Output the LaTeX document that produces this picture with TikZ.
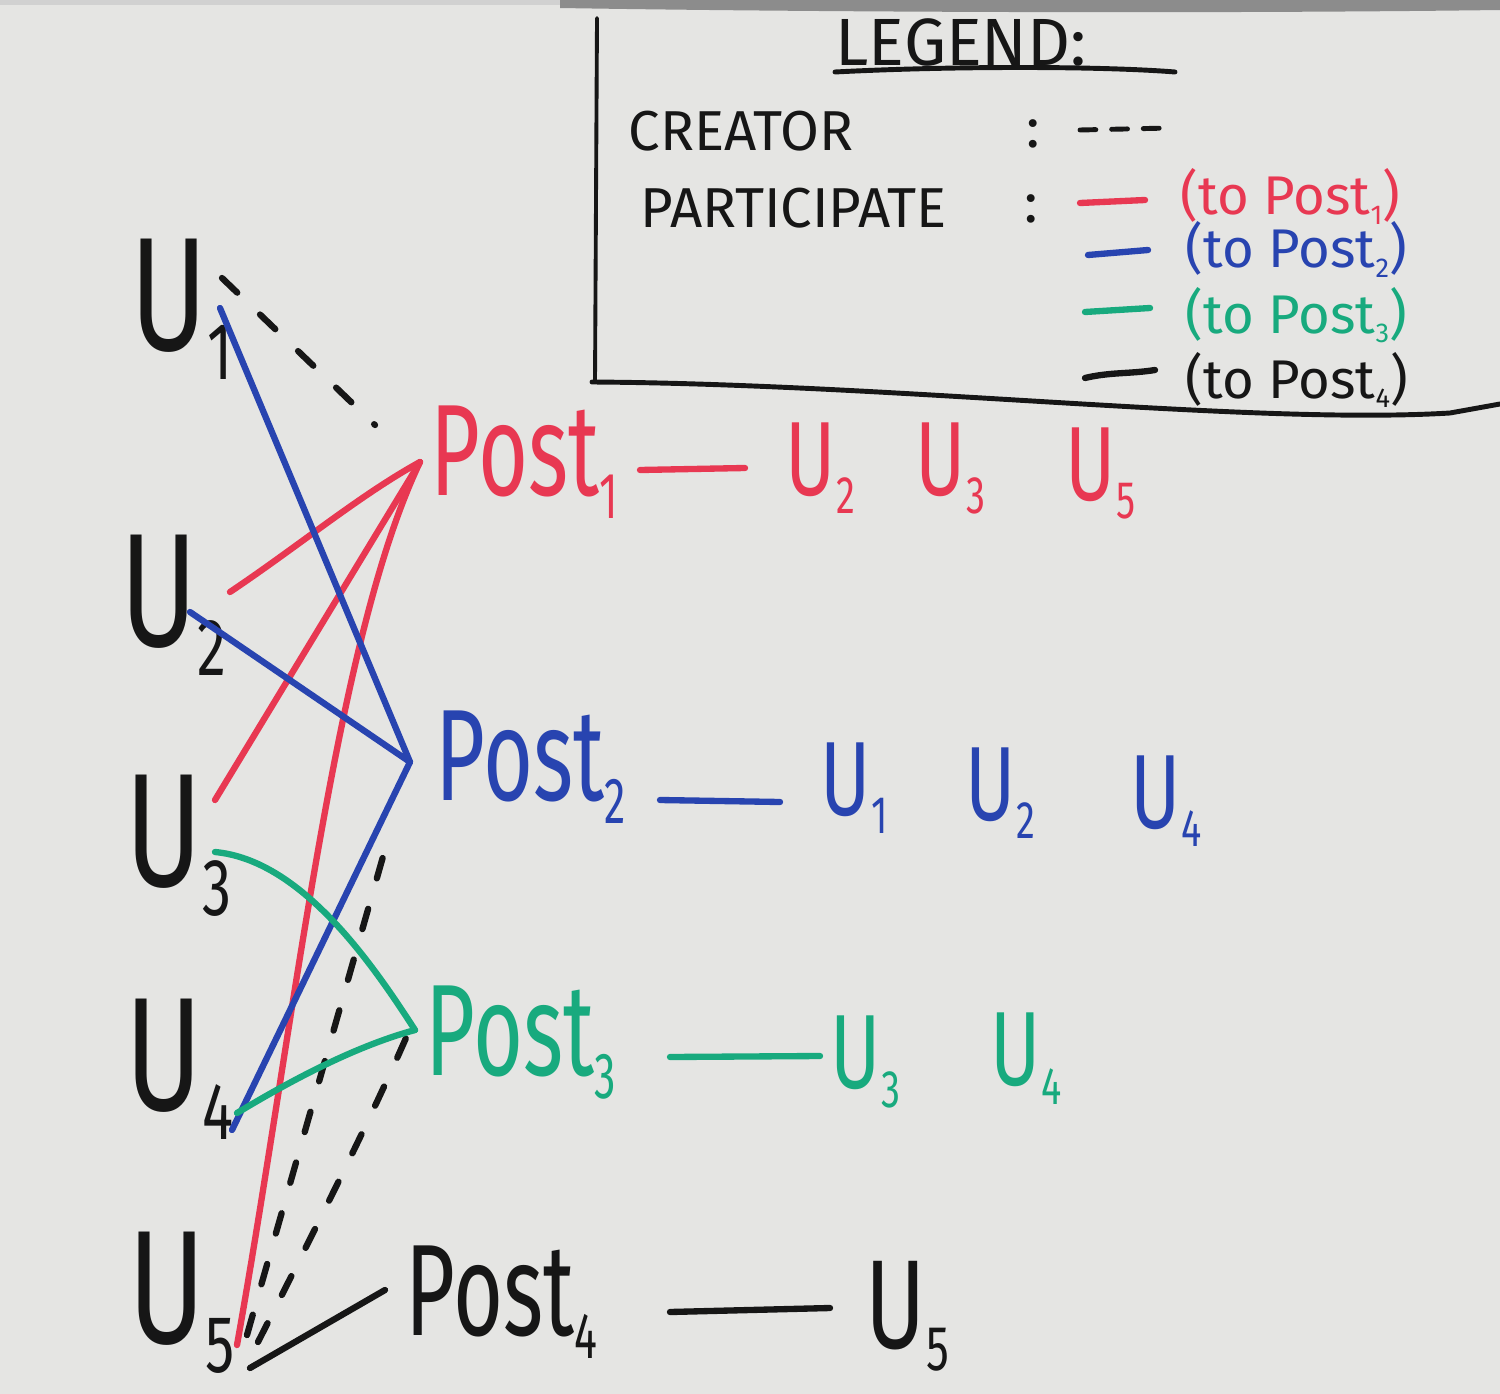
\documentclass[tikz,border=0pt]{standalone}
\usepackage{fontspec}
\usepackage{graphicx}
\setmainfont{Fira Sans}
\newfontfamily\hand[FakeStretch=0.72]{Fira Sans}
\newfontfamily\handn[FakeStretch=0.66]{Fira Sans}
\newcommand\lsub[1]{\raisebox{-0.18em}{\scalebox{0.5}{#1}}}
\definecolor{bgc}{RGB}{229,229,227}
\definecolor{pred}{RGB}{232,56,82}
\definecolor{pblue}{RGB}{40,68,176}
\definecolor{pgreen}{RGB}{24,170,126}
\definecolor{pblack}{RGB}{22,22,22}
\begin{document}
\begin{tikzpicture}[x=0.01cm,y=-0.01cm,
  edge/.style={line width=1.8pt,line cap=round},
  creator/.style={edge,pblack,dash pattern=on 6pt off 9pt},
  ulab/.style={anchor=base west,inner sep=0,text=pblack,font={\hand\fontsize{46pt}{46pt}\selectfont}},
  postlab/.style={anchor=base west,inner sep=0,font={\handn\fontsize{37pt}{37pt}\selectfont}},
  plist/.style={anchor=base west,inner sep=0,font={\hand\fontsize{30pt}{30pt}\selectfont}},
  legtext/.style={anchor=base west,inner sep=0,text=pblack,font={\fontsize{16pt}{16pt}\selectfont}},
  legpost/.style={anchor=base west,inner sep=0,font={\fontsize{15.5pt}{15.5pt}\selectfont}},
  legline/.style={line width=1.1pt,pblack,line cap=round},
  dashmark/.style={line width=1.8pt,line cap=round}]
\useasboundingbox (0,0) rectangle (1500,1394);
\fill[bgc] (0,0) rectangle (1500,1394);
\fill[black!45] (560,0) -- (1500,0) -- (1500,10) .. controls (1200,14) and (800,12) .. (560,8) -- cycle;
\fill[black!18] (0,0) rectangle (560,5);

% legend
\draw[legline] (597,18) -- (595,382);
\draw[legline,line width=1.4pt] (592,382) .. controls (900,384) and (1250,425) .. (1450,413) -- (1500,404);
\node[legtext,font={\fontsize{19pt}{19pt}\selectfont}] (leg) at (835,66) {LEGEND:};
\draw[legline,line width=1.4pt] (835,72) .. controls (950,66) and (1100,66) .. (1175,72);
\node[legtext] (cr) at (628,150) {CREATOR};
\node[legtext] (crc) at (1026,148) {:};
\draw[legline,line width=1.4pt,dash pattern=on 4.5pt off 4.5pt] (1080,130) -- (1170,128);
\node[legtext] (pa) at (640,228) {PARTICIPATE};
\node[legtext] (pac) at (1024,222) {:};
\draw[dashmark,pred] (1080,203) -- (1145,200);
\node[legpost,text=pred] (l1) at (1180,215) {(to Post\lsub{1})};
\draw[dashmark,pblue] (1088,255) -- (1148,250);
\node[legpost,text=pblue] (l2) at (1185,268) {(to Post\lsub{2})};
\draw[dashmark,pgreen] (1085,312) -- (1150,308);
\node[legpost,text=pgreen] (l3) at (1185,333) {(to Post\lsub{3})};
\draw[dashmark,pblack] (1085,378) .. controls (1110,372) and (1130,374) .. (1155,370);
\node[legpost,text=pblack] (l4) at (1185,398) {(to Post\lsub{4})};

% users
\node[ulab] (u1) at (130,350) {U\lsub{1}};
\node[ulab] (u2) at (120,646) {U\lsub{2}};
\node[ulab] (u3) at (125,886) {U\lsub{3}};
\node[ulab] (u4) at (125,1110) {U\lsub{4}};
\node[ulab] (u5) at (128,1343) {U\lsub{5}};

% posts
\node[postlab,text=pred] (p1) at (430,495) {Post\lsub{1}};
\node[postlab,text=pblue] (p2) at (435,800) {Post\lsub{2}};
\node[postlab,text=pgreen] (p3) at (425,1075) {Post\lsub{3}};
\node[postlab,text=pblack] (p4) at (405,1335) {Post\lsub{4}};

% participant lists
\node[plist,text=pred] (r1a) at (785,495) {U\lsub{2}};
\node[plist,text=pred] (r1b) at (915,495) {U\lsub{3}};
\node[plist,text=pred] (r1c) at (1065,500) {U\lsub{5}};
\node[plist,text=pblue] (r2a) at (820,815) {U\lsub{1}};
\node[plist,text=pblue] (r2b) at (965,820) {U\lsub{2}};
\node[plist,text=pblue] (r2c) at (1130,828) {U\lsub{4}};
\node[plist,text=pgreen] (r3a) at (830,1088) {U\lsub{3}};
\node[plist,text=pgreen] (r3b) at (990,1085) {U\lsub{4}};
\node[plist,text=pblack,font={\hand\fontsize{36pt}{36pt}\selectfont}] (r4a) at (865,1348) {U\lsub{5}};

% row dashes
\coordinate (d1a) at (640,470); \coordinate (d1b) at (745,468);
\coordinate (d2a) at (660,800); \coordinate (d2b) at (780,802);
\coordinate (d3a) at (670,1057); \coordinate (d3b) at (820,1056);
\coordinate (d4a) at (670,1312); \coordinate (d4b) at (830,1308);
\draw[dashmark,pred] (d1a) -- (d1b);
\draw[dashmark,pblue] (d2a) -- (d2b);
\draw[dashmark,pgreen] (d3a) -- (d3b);
\draw[dashmark,pblack] (d4a) -- (d4b);

% ports
\coordinate (p1in) at (420,462);
\coordinate (p2in) at (410,762);
\coordinate (p3in) at (415,1030);
\coordinate (p4in) at (385,1290);
\coordinate (p1c) at (375,425);
\coordinate (p2c) at (390,832);
\coordinate (p3c) at (406,1038);
\coordinate (u1a) at (222,278);
\coordinate (u1b) at (220,308);
\coordinate (u2a) at (230,592);
\coordinate (u2b) at (190,612);
\coordinate (u3a) at (215,800);
\coordinate (u3b) at (215,852);
\coordinate (u4a) at (232,1130);
\coordinate (u4b) at (237,1113);
\coordinate (u5a) at (237,1345);
\coordinate (u5b) at (247,1335);
\coordinate (u5c) at (258,1342);
\coordinate (u5d) at (250,1368);

% creator edges
\draw[creator] (u1a) -- (p1c);
\draw[creator] (u5b) -- (p2c);
\draw[creator] (u5c) .. controls (320,1220) and (370,1120) .. (p3c);

% participation edges
\draw[edge,pred] (u2a) .. controls (300,545) and (360,495) .. (p1in);
\draw[edge,pred] (u3a) -- (p1in);
\draw[edge,pred] (u5a) .. controls (295,1020) and (335,640) .. (p1in);
\draw[edge,pblue] (u1b) -- (p2in);
\draw[edge,pblue] (u2b) -- (p2in);
\draw[edge,pblue] (u4a) -- (p2in);
\draw[edge,pgreen] (u3b) .. controls (300,860) and (370,960) .. (p3in);
\draw[edge,pgreen] (u4b) .. controls (300,1075) and (360,1045) .. (p3in);
\draw[edge,pblack] (u5d) -- (p4in);
\end{tikzpicture}
\end{document}
